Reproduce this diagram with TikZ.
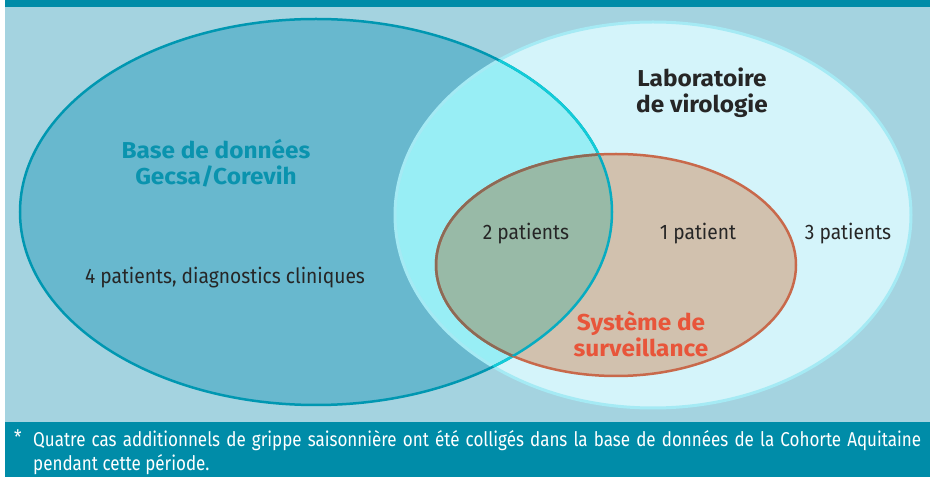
\documentclass[tikz,border=0pt]{standalone}
\usepackage{fontspec}
\setmainfont{Fira Sans}
\newfontfamily\notefont{Fira Sans}[FakeStretch=0.85]
\newfontfamily\countfont{Fira Sans}[FakeStretch=0.915]
\newfontfamily\titlefont{Fira Sans}[FakeStretch=1.06]
\definecolor{band}{HTML}{008CA8}
\definecolor{backblue}{HTML}{A4D3E0}
\definecolor{gecsafill}{HTML}{68B8CE}
\definecolor{gecsaline}{HTML}{0097B1}
\definecolor{virofill}{HTML}{D4F4FA}
\definecolor{viroline}{HTML}{A5EAF4}
\definecolor{bothfill}{HTML}{98EEF5}
\definecolor{bothline}{HTML}{12CCD8}
\definecolor{survfill}{HTML}{D1C1AE}
\definecolor{survmix}{HTML}{98BAA7}
\definecolor{survline}{HTML}{C8694B}
\definecolor{survdark}{HTML}{8C6A56}
\definecolor{gecsatext}{HTML}{0A93AE}
\definecolor{survtext}{HTML}{E8553A}
\definecolor{ink}{HTML}{262626}
\tikzset{
  count/.style={text=ink,font=\countfont\fontsize{21}{24}\selectfont,inner sep=0pt},
  title/.style={font=\titlefont\fontsize{23}{26}\selectfont\bfseries,align=center,inner sep=0pt},
  note/.style={text=white,font=\notefont\fontsize{20}{24}\selectfont,anchor=north west,inner sep=0pt},
}
\begin{document}
\begin{tikzpicture}[x=1pt,y=1pt]
  \useasboundingbox (0,0) rectangle (930,477);
  \fill[band] (5,0) rectangle (930,477);
  \fill[backblue] (5,55) rectangle (930,470);
  % the three sets
  \def\gecsa{(316,265) ellipse [x radius=296,y radius=193]}
  \def\viro{(653,262) ellipse [x radius=258,y radius=193]}
  \def\surv{(616,212) ellipse [x radius=180,y radius=111]}
  \fill[gecsafill] \gecsa;
  \fill[virofill] \viro;
  \begin{scope}
    \clip \gecsa;
    \fill[bothfill] \viro;
  \end{scope}
  \draw[viroline,line width=3pt] \viro;
  \draw[gecsaline,line width=2.5pt] \gecsa;
  \begin{scope}
    \clip \viro;
    \draw[bothline,line width=2.5pt] \gecsa;
  \end{scope}
  \fill[survfill] \surv;
  \begin{scope}
    \clip \gecsa;
    \fill[survmix] \surv;
  \end{scope}
  \draw[survline,line width=2.5pt] \surv;
  \begin{scope}
    \clip \gecsa;
    \draw[survdark,line width=2.5pt] \surv;
  \end{scope}
  \begin{scope}
    \clip \surv;
    \draw[gecsaline!60!bothline,line width=2.5pt] \gecsa;
  \end{scope}
  % labels
  \node[title,text=gecsatext] (gecsa) at (216,314) {Base de données\\Gecsa/Corevih};
  \node[count] (clin) at (225,199) {4 patients, diagnostics cliniques};
  \node[title,text=ink] (viro) at (702,384) {Laboratoire\\de virologie};
  \node[count] (two) at (526,243) {2 patients};
  \node[count] (one) at (698,243) {1 patient};
  \node[count] (three) at (848,243) {3 patients};
  \node[title,text=survtext] (surv) at (641,143) {Système de\\surveillance};
  % footnote
  \node[note] (star) at (14,47) {*};
  \node[note,text width=888pt,align=justify] (note) at (33,47)
    {Quatre cas additionnels de grippe saisonnière ont été colligés dans la base de données de la Cohorte Aquitaine pendant cette période.};
\end{tikzpicture}
\end{document}
